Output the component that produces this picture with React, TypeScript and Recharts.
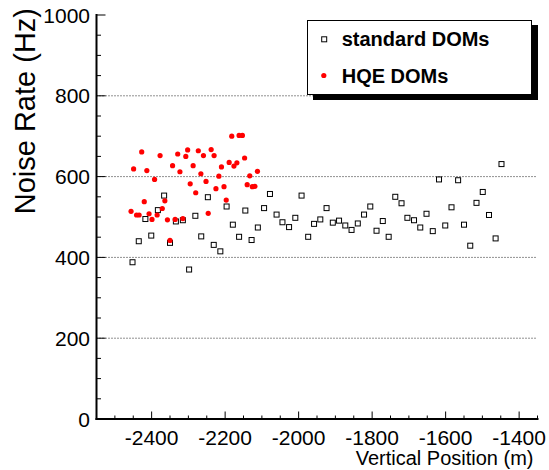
import React from 'react';
import {
  ScatterChart,
  Scatter,
  XAxis,
  YAxis,
  ReferenceLine,
  Legend,
} from 'recharts';

// standard DOMs: depth (m) and noise rate (Hz)
const stdPos = [
  -2452, -2435, -2417, -2401, -2383, -2366, -2350, -2334, -2315, -2298,
  -2281, -2265, -2247, -2231, -2213, -2196, -2179, -2162, -2145, -2128,
  -2111, -2094, -2078, -2060, -2044, -2026, -2009, -1992, -1974, -1958,
  -1941, -1924, -1907, -1890, -1873, -1856, -1839, -1822, -1805, -1788,
  -1771, -1755, -1737, -1720, -1704, -1686, -1669, -1652, -1635, -1618,
  -1601, -1584, -1566, -1550, -1533, -1516, -1499, -1482, -1464, -1448,
];
const stdRate = [
  388, 440, 495, 454, 517, 553, 436, 489, 492, 370,
  503, 452, 549, 431, 415, 526, 481, 451, 516, 443,
  474, 522, 557, 506, 487, 475, 498, 553, 451, 483,
  494, 522, 486, 491, 479, 468, 484, 506, 526, 466,
  490, 451, 550, 534, 498, 492, 474, 508, 465, 593,
  479, 524, 591, 481, 429, 535, 562, 505, 447, 631,
];

// HQE DOMs
const hqePos = [
  -2456, -2449, -2441, -2434, -2427, -2420, -2413, -2407, -2399, -2392,
  -2385, -2377, -2371, -2364, -2357, -2350, -2343, -2336, -2329, -2323,
  -2315, -2307, -2302, -2295, -2287, -2280, -2273, -2266, -2259, -2252,
  -2246, -2238, -2230, -2225, -2217, -2210, -2203, -2197, -2189, -2182,
  -2176, -2168, -2162, -2153, -2147, -2140, -2133, -2126, -2119, -2112,
];
const hqeRate = [
  514, 619, 505, 505, 661, 538, 615, 508, 494, 593,
  505, 652, 521, 540, 493, 442, 627, 494, 656, 612,
  496, 650, 666, 582, 627, 560, 664, 607, 652, 588,
  509, 667, 652, 570, 601, 624, 575, 542, 635, 700,
  626, 634, 702, 702, 646, 580, 602, 575, 576, 613,
];

const xTicks = [
  -2550, -2500, -2450, -2400, -2350, -2300, -2250, -2200, -2150, -2100,
  -2050, -2000, -1950, -1900, -1850, -1800, -1750, -1700, -1650, -1600,
  -1550, -1500, -1450, -1400, -1350,
];
const yTicks = [
  0, 50, 100, 150, 200, 250, 300, 350, 400, 450, 500,
  550, 600, 650, 700, 750, 800, 850, 900, 950, 1000,
];
const gridLevels = [200, 400, 600, 800];

const stdData = stdPos.map((pos, i) => ({ pos, rate: stdRate[i] }));
const hqeData = hqePos.map((pos, i) => ({ pos, rate: hqeRate[i] }));

const FONT = '"Liberation Sans", Arial, Helvetica, sans-serif';
const frame = { stroke: '#000', strokeWidth: 2, strokeLinecap: 'square' as const };

const isMajor = (v: number) => v % 200 === 0;

const BottomTick = ({ x, y, payload }: any) => (
  <g>
    <line x1={x} x2={x} y1={y} y2={y - (isMajor(payload.value) ? 7.5 : 3.5)} stroke="#000" />
    {isMajor(payload.value) && (
      <text x={x} y={y + 25.5} textAnchor="middle" fontSize={21} fontFamily={FONT} fill="#000">
        {payload.value}
      </text>
    )}
  </g>
);

const TopTick = ({ x, y, payload }: any) => (
  <line x1={x} x2={x} y1={y} y2={y + (isMajor(payload.value) ? 7.5 : 3.5)} stroke="#000" />
);

const LeftTick = ({ x, y, payload }: any) => (
  <g>
    <line x1={x} x2={x + (isMajor(payload.value) ? 9 : 4.5)} y1={y} y2={y} stroke="#000" />
    {isMajor(payload.value) && (
      <text x={x - 6.5} y={y + 7.5} textAnchor="end" fontSize={21} fontFamily={FONT} fill="#000">
        {payload.value}
      </text>
    )}
  </g>
);

const RightTick = ({ x, y, payload }: any) => (
  <line x1={x} x2={x - (isMajor(payload.value) ? 9 : 4.5)} y1={y} y2={y} stroke="#000" />
);

const XTitle = ({ viewBox }: any) => (
  <text
    x={viewBox.x + viewBox.width - 4}
    y={viewBox.y + 46}
    textAnchor="end"
    fontSize={20}
    fontFamily={FONT}
    fill="#000"
  >
    Vertical Position (m)
  </text>
);

const YTitle = () => (
  <text
    x={35}
    y={8}
    transform="rotate(-90, 35, 8)"
    textAnchor="end"
    fontSize={29}
    fontFamily={FONT}
    fill="#000"
  >
    Noise Rate (Hz)
  </text>
);

const Square = ({ cx, cy }: any) => (
  <rect x={cx - 2.5} y={cy - 2.5} width={5} height={5} fill="none" stroke="#000" strokeWidth={1} />
);

const Dot = ({ cx, cy }: any) => <circle cx={cx} cy={cy} r={2.6} fill="#ff0000" />;

const LegendBox = () => (
  <svg width={232} height={81} style={{ display: 'block' }}>
    <rect x={6} y={5} width={225} height={75} fill="#000" />
    <rect x={0.5} y={0.5} width={224} height={74} fill="#fff" stroke="#000" />
    <Square cx={17.2} cy={19.3} />
    <text x={34.7} y={25.7} fontSize={20} fontWeight="bold" fontFamily={FONT} fill="#000">
      standard DOMs
    </text>
    <Dot cx={16.8} cy={55.5} />
    <text x={34.7} y={63.3} fontSize={20} fontWeight="bold" fontFamily={FONT} fill="#000">
      HQE DOMs
    </text>
  </svg>
);

export default function App() {
  return (
    <div style={{ position: 'absolute', left: 0, top: 0, background: '#fff' }}>
      <ScatterChart
        width={549}
        height={470}
        margin={{ top: 15, right: 11.5, left: 0, bottom: 0 }}
      >
        <XAxis
          xAxisId="b"
          type="number"
          dataKey="pos"
          domain={[-2550, -1350]}
          ticks={xTicks}
          interval={0}
          height={51}
          tickSize={0}
          tickMargin={0}
          tickLine={false}
          axisLine={frame}
          tick={<BottomTick />}
          label={<XTitle />}
        />
        <XAxis
          xAxisId="t"
          orientation="top"
          type="number"
          domain={[-2550, -1350]}
          ticks={xTicks}
          interval={0}
          height={0}
          tickSize={0}
          tickMargin={0}
          tickLine={false}
          axisLine={frame}
          tick={<TopTick />}
        />
        <YAxis
          yAxisId="l"
          type="number"
          dataKey="rate"
          domain={[0, 1000]}
          ticks={yTicks}
          interval={0}
          width={96.5}
          tickSize={0}
          tickMargin={0}
          tickLine={false}
          axisLine={frame}
          tick={<LeftTick />}
          label={<YTitle />}
        />
        <YAxis
          yAxisId="r"
          orientation="right"
          type="number"
          domain={[0, 1000]}
          ticks={yTicks}
          interval={0}
          width={0}
          tickSize={0}
          tickMargin={0}
          tickLine={false}
          axisLine={frame}
          tick={<RightTick />}
        />
        {gridLevels.map((v) => (
          <ReferenceLine
            key={v}
            xAxisId="b"
            yAxisId="l"
            y={v}
            stroke="#222"
            strokeDasharray="1 2"
          />
        ))}
        <Scatter
          name="standard DOMs"
          data={stdData}
          xAxisId="b"
          yAxisId="l"
          shape={<Square />}
          isAnimationActive={false}
        />
        <Scatter
          name="HQE DOMs"
          data={hqeData}
          xAxisId="b"
          yAxisId="l"
          shape={<Dot />}
          isAnimationActive={false}
        />
        <Legend
          layout="vertical"
          align="center"
          verticalAlign="middle"
          content={<LegendBox />}
          wrapperStyle={{ left: 307, top: 20, width: 232, height: 81 }}
        />
      </ScatterChart>
    </div>
  );
}
